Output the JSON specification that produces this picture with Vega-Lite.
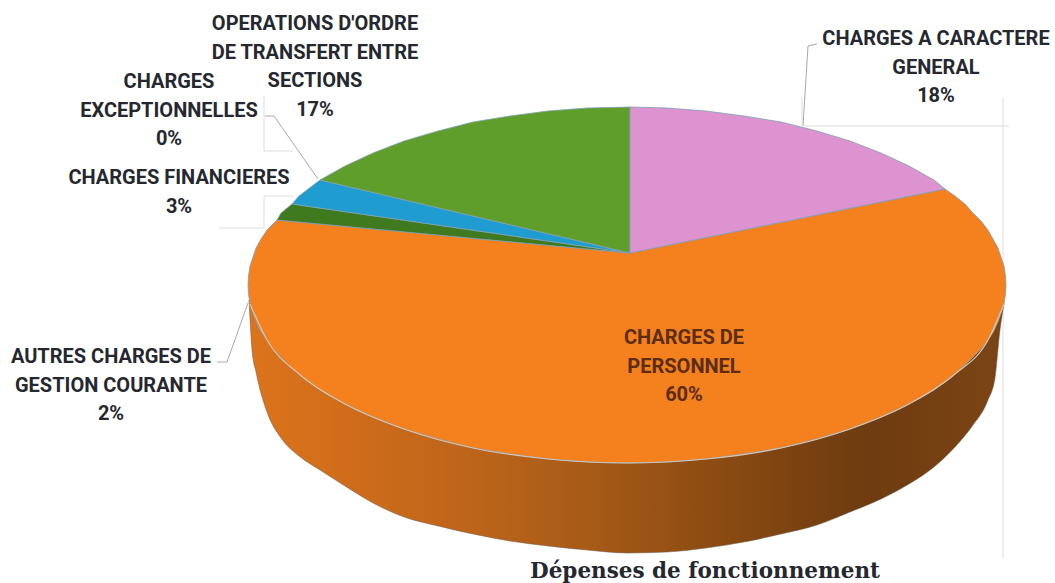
{"$schema":"https://vega.github.io/schema/vega-lite/v6.json","width":1055,"height":583,"autosize":{"type":"fit","contains":"padding"},"padding":0,"background":"white","view":{"stroke":null},
"datasets":{
"wall":[{"x":249,"t":300,"b":300},{"x":252,"t":310,"b":350},{"x":256,"t":322,"b":372},{"x":267,"t":340,"b":412},{"x":281,"t":357,"b":438},{"x":299,"t":374,"b":456},{"x":320,"t":390,"b":470},{"x":345,"t":404,"b":486},{"x":373,"t":417,"b":503},{"x":404,"t":429,"b":517},{"x":438,"t":439,"b":526},{"x":473,"t":448,"b":534},{"x":510,"t":454,"b":541},{"x":548,"t":459,"b":546},{"x":587,"t":462,"b":550},{"x":627,"t":463,"b":553},{"x":667,"t":462,"b":552},{"x":706,"t":459,"b":548},{"x":744,"t":454,"b":542},{"x":781,"t":448,"b":534},{"x":817,"t":439,"b":525},{"x":850,"t":429,"b":512},{"x":881,"t":417,"b":499},{"x":909,"t":404,"b":484},{"x":934,"t":390,"b":467},{"x":955,"t":374,"b":447},{"x":973,"t":357,"b":425},{"x":988,"t":340,"b":400},{"x":995,"t":329,"b":378},{"x":1000,"t":316,"b":330},{"x":1004,"t":304,"b":304}],
"slices":[
{"s":"CHARGES DE PERSONNEL","i":0,"x":630,"y":253},{"s":"CHARGES DE PERSONNEL","i":1,"x":945,"y":189},{"s":"CHARGES DE PERSONNEL","i":2,"x":955,"y":196},{"s":"CHARGES DE PERSONNEL","i":2.5,"x":965,"y":204},{"s":"CHARGES DE PERSONNEL","i":3,"x":973,"y":213},{"s":"CHARGES DE PERSONNEL","i":3.5,"x":981,"y":221},{"s":"CHARGES DE PERSONNEL","i":4,"x":988,"y":230},{"s":"CHARGES DE PERSONNEL","i":4.5,"x":993,"y":239},{"s":"CHARGES DE PERSONNEL","i":5,"x":998,"y":248},{"s":"CHARGES DE PERSONNEL","i":5.5,"x":1001,"y":257},{"s":"CHARGES DE PERSONNEL","i":6,"x":1004,"y":266},{"s":"CHARGES DE PERSONNEL","i":6.5,"x":1005.5,"y":276},{"s":"CHARGES DE PERSONNEL","i":7,"x":1006,"y":285},{"s":"CHARGES DE PERSONNEL","i":7.5,"x":1005.5,"y":294},{"s":"CHARGES DE PERSONNEL","i":8,"x":1004,"y":304},{"s":"CHARGES DE PERSONNEL","i":8.5,"x":1001,"y":313},{"s":"CHARGES DE PERSONNEL","i":9,"x":998,"y":322},{"s":"CHARGES DE PERSONNEL","i":9.5,"x":993,"y":331},{"s":"CHARGES DE PERSONNEL","i":10,"x":988,"y":340},{"s":"CHARGES DE PERSONNEL","i":10.5,"x":981,"y":349},{"s":"CHARGES DE PERSONNEL","i":11,"x":973,"y":357},{"s":"CHARGES DE PERSONNEL","i":12,"x":955,"y":374},{"s":"CHARGES DE PERSONNEL","i":13,"x":934,"y":390},{"s":"CHARGES DE PERSONNEL","i":14,"x":909,"y":404},{"s":"CHARGES DE PERSONNEL","i":15,"x":881,"y":417},{"s":"CHARGES DE PERSONNEL","i":16,"x":850,"y":429},{"s":"CHARGES DE PERSONNEL","i":17,"x":817,"y":439},{"s":"CHARGES DE PERSONNEL","i":18,"x":781,"y":448},{"s":"CHARGES DE PERSONNEL","i":19,"x":744,"y":454},{"s":"CHARGES DE PERSONNEL","i":20,"x":706,"y":459},{"s":"CHARGES DE PERSONNEL","i":21,"x":667,"y":462},{"s":"CHARGES DE PERSONNEL","i":22,"x":627,"y":463},{"s":"CHARGES DE PERSONNEL","i":23,"x":587,"y":462},{"s":"CHARGES DE PERSONNEL","i":24,"x":548,"y":459},{"s":"CHARGES DE PERSONNEL","i":25,"x":510,"y":454},{"s":"CHARGES DE PERSONNEL","i":26,"x":473,"y":448},{"s":"CHARGES DE PERSONNEL","i":27,"x":438,"y":439},{"s":"CHARGES DE PERSONNEL","i":28,"x":404,"y":429},{"s":"CHARGES DE PERSONNEL","i":29,"x":373,"y":417},{"s":"CHARGES DE PERSONNEL","i":30,"x":345,"y":404},{"s":"CHARGES DE PERSONNEL","i":31,"x":320,"y":390},{"s":"CHARGES DE PERSONNEL","i":32,"x":299,"y":374},{"s":"CHARGES DE PERSONNEL","i":32.5,"x":289,"y":366},{"s":"CHARGES DE PERSONNEL","i":33,"x":281,"y":357},{"s":"CHARGES DE PERSONNEL","i":33.5,"x":273,"y":349},{"s":"CHARGES DE PERSONNEL","i":34,"x":267,"y":340},{"s":"CHARGES DE PERSONNEL","i":34.5,"x":261,"y":331},{"s":"CHARGES DE PERSONNEL","i":35,"x":256,"y":322},{"s":"CHARGES DE PERSONNEL","i":35.5,"x":253,"y":313},{"s":"CHARGES DE PERSONNEL","i":36,"x":250,"y":304},{"s":"CHARGES DE PERSONNEL","i":36.5,"x":248.5,"y":294},{"s":"CHARGES DE PERSONNEL","i":37,"x":248,"y":285},{"s":"CHARGES DE PERSONNEL","i":37.5,"x":248.5,"y":276},{"s":"CHARGES DE PERSONNEL","i":38,"x":250,"y":266},{"s":"CHARGES DE PERSONNEL","i":38.5,"x":253,"y":257},{"s":"CHARGES DE PERSONNEL","i":39,"x":256,"y":248},{"s":"CHARGES DE PERSONNEL","i":39.5,"x":261,"y":239},{"s":"CHARGES DE PERSONNEL","i":40,"x":267,"y":230},{"s":"CHARGES DE PERSONNEL","i":41,"x":277,"y":220},{"s":"CHARGES DE PERSONNEL","i":42,"x":630,"y":253},
{"s":"AUTRES CHARGES DE GESTION COURANTE","i":0,"x":630,"y":253},{"s":"AUTRES CHARGES DE GESTION COURANTE","i":1,"x":277,"y":220},{"s":"AUTRES CHARGES DE GESTION COURANTE","i":2,"x":281,"y":213},{"s":"AUTRES CHARGES DE GESTION COURANTE","i":3,"x":292,"y":204},{"s":"AUTRES CHARGES DE GESTION COURANTE","i":4,"x":630,"y":253},
{"s":"CHARGES FINANCIERES","i":0,"x":630,"y":253},{"s":"CHARGES FINANCIERES","i":1,"x":292,"y":204},{"s":"CHARGES FINANCIERES","i":2,"x":299,"y":196},{"s":"CHARGES FINANCIERES","i":3,"x":320,"y":180},{"s":"CHARGES FINANCIERES","i":4,"x":630,"y":253},
{"s":"OPERATIONS D'ORDRE","i":0,"x":630,"y":253},{"s":"OPERATIONS D'ORDRE","i":1,"x":320,"y":180},{"s":"OPERATIONS D'ORDRE","i":2,"x":345,"y":166},{"s":"OPERATIONS D'ORDRE","i":3,"x":373,"y":153},{"s":"OPERATIONS D'ORDRE","i":4,"x":404,"y":141},{"s":"OPERATIONS D'ORDRE","i":5,"x":438,"y":131},{"s":"OPERATIONS D'ORDRE","i":6,"x":473,"y":122},{"s":"OPERATIONS D'ORDRE","i":7,"x":510,"y":116},{"s":"OPERATIONS D'ORDRE","i":8,"x":548,"y":111},{"s":"OPERATIONS D'ORDRE","i":9,"x":587,"y":108},{"s":"OPERATIONS D'ORDRE","i":10,"x":630,"y":107},{"s":"OPERATIONS D'ORDRE","i":11,"x":630,"y":253},
{"s":"CHARGES A CARACTERE GENERAL","i":0,"x":630,"y":253},{"s":"CHARGES A CARACTERE GENERAL","i":1,"x":630,"y":107},{"s":"CHARGES A CARACTERE GENERAL","i":2,"x":667,"y":108},{"s":"CHARGES A CARACTERE GENERAL","i":3,"x":706,"y":111},{"s":"CHARGES A CARACTERE GENERAL","i":4,"x":744,"y":116},{"s":"CHARGES A CARACTERE GENERAL","i":5,"x":781,"y":122},{"s":"CHARGES A CARACTERE GENERAL","i":6,"x":817,"y":131},{"s":"CHARGES A CARACTERE GENERAL","i":7,"x":850,"y":141},{"s":"CHARGES A CARACTERE GENERAL","i":8,"x":881,"y":153},{"s":"CHARGES A CARACTERE GENERAL","i":9,"x":909,"y":166},{"s":"CHARGES A CARACTERE GENERAL","i":10,"x":934,"y":180},{"s":"CHARGES A CARACTERE GENERAL","i":11,"x":945,"y":189},{"s":"CHARGES A CARACTERE GENERAL","i":12,"x":630,"y":253}],
"leaders":[
{"k":"a","c":"lead","i":0,"x":265,"y":116},{"k":"a","c":"lead","i":1,"x":274,"y":116},{"k":"a","c":"lead","i":2,"x":318,"y":179},
{"k":"b","c":"lead","i":0,"x":817,"y":44},{"k":"b","c":"lead","i":1,"x":808,"y":46},{"k":"b","c":"lead","i":2,"x":803,"y":126},
{"k":"c","c":"lead","i":0,"x":217,"y":362},{"k":"c","c":"lead","i":1,"x":227,"y":362},{"k":"c","c":"lead","i":2,"x":248,"y":303},
{"k":"d","c":"frame","i":0,"x":264,"y":96},{"k":"d","c":"frame","i":1,"x":264,"y":151},{"k":"d","c":"frame","i":2,"x":293,"y":151},
{"k":"e","c":"frame","i":0,"x":219,"y":228},{"k":"e","c":"frame","i":1,"x":264,"y":228},{"k":"e","c":"frame","i":2,"x":264,"y":196},{"k":"e","c":"frame","i":3,"x":293,"y":196},
{"k":"f","c":"frame","i":0,"x":802,"y":97},{"k":"f","c":"frame","i":1,"x":802,"y":126},{"k":"f","c":"frame","i":2,"x":1009,"y":126},
{"k":"g","c":"frame","i":0,"x":1003,"y":97},{"k":"g","c":"frame","i":1,"x":1003,"y":558}],
"rim":[{"x":250,"y":304},{"x":267,"y":340},{"x":299,"y":374},{"x":345,"y":404},{"x":404,"y":429},{"x":473,"y":448},{"x":548,"y":459},{"x":627,"y":463},{"x":706,"y":459},{"x":781,"y":448},{"x":850,"y":429},{"x":909,"y":404},{"x":955,"y":374},{"x":988,"y":340},{"x":1004,"y":304}],
"labels":[
{"t":"OPERATIONS D'ORDRE\nDE TRANSFERT ENTRE\nSECTIONS\n17%","x":315,"y":30,"c":"out"},
{"t":"CHARGES\nEXCEPTIONNELLES\n0%","x":169,"y":88,"c":"out"},
{"t":"CHARGES FINANCIERES\n3%","x":179,"y":184,"c":"out"},
{"t":"CHARGES A CARACTERE\nGENERAL\n18%","x":936,"y":45,"c":"out"},
{"t":"AUTRES CHARGES DE\nGESTION COURANTE\n2%","x":111,"y":363,"c":"out"},
{"t":"CHARGES DE\nPERSONNEL\n60%","x":684,"y":344,"c":"in"}],
"title":[{"t":"Dépenses de fonctionnement","x":705,"y":578}]
},
"resolve":{"scale":{"color":"independent","fill":"independent","stroke":"independent"}},
"layer":[
{"data":{"name":"leaders"},"mark":{"type":"line","strokeWidth":1,"clip":false},"encoding":{
"x":{"field":"x","type":"quantitative","scale":{"domain":[0,1055],"nice":false,"zero":false},"axis":null},
"y":{"field":"y","type":"quantitative","scale":{"domain":[583,0],"nice":false,"zero":false},"axis":null},
"detail":{"field":"k"},"order":{"field":"i"},
"color":{"field":"c","scale":{"domain":["frame","lead"],"range":["#dcdde0","#a9a9a9"]},"legend":null}}},
{"data":{"name":"wall"},"mark":{"type":"area","interpolate":"monotone","stroke":"#6b5a4a","strokeWidth":0.5,"color":{"gradient":"linear","x1":0,"x2":1,"y1":0,"y2":0,"stops":[{"offset":0,"color":"#dd741c"},{"offset":0.13,"color":"#d06c1a"},{"offset":0.33,"color":"#b8631a"},{"offset":0.46,"color":"#a55a16"},{"offset":0.6,"color":"#8f4d13"},{"offset":0.73,"color":"#7a4210"},{"offset":0.82,"color":"#6e3c10"},{"offset":1,"color":"#7c4414"}]}},"encoding":{
"x":{"field":"x","type":"quantitative","scale":{"domain":[0,1055],"nice":false,"zero":false},"axis":null},
"y":{"field":"t","type":"quantitative","scale":{"domain":[583,0],"nice":false,"zero":false},"axis":null},
"y2":{"field":"b"}}},
{"data":{"name":"slices"},"mark":{"type":"line","strokeWidth":0.8,"stroke":"#7f9fb5"},"encoding":{
"x":{"field":"x","type":"quantitative","scale":{"domain":[0,1055],"nice":false,"zero":false},"axis":null},
"y":{"field":"y","type":"quantitative","scale":{"domain":[583,0],"nice":false,"zero":false},"axis":null},
"detail":{"field":"s"},"order":{"field":"i"},
"fill":{"field":"s","scale":{"domain":["CHARGES DE PERSONNEL","AUTRES CHARGES DE GESTION COURANTE","CHARGES FINANCIERES","OPERATIONS D'ORDRE","CHARGES A CARACTERE GENERAL"],"range":["#f5801e","#3f7a1f","#1f9dd0","#5f9e2a","#dc93cf"]},"legend":null}}},
{"data":{"name":"rim"},"mark":{"type":"line","interpolate":"monotone","strokeWidth":1.2,"stroke":"#cfc6b8"},"encoding":{
"x":{"field":"x","type":"quantitative","scale":{"domain":[0,1055],"nice":false,"zero":false},"axis":null},
"y":{"field":"y","type":"quantitative","scale":{"domain":[583,0],"nice":false,"zero":false},"axis":null}}},
{"data":{"name":"labels"},"mark":{"type":"text","font":"Roboto","fontWeight":"bold","fontSize":20,"align":"center","baseline":"alphabetic","lineBreak":"\n","lineHeight":28.5},"encoding":{
"x":{"field":"x","type":"quantitative","scale":{"domain":[0,1055],"nice":false,"zero":false},"axis":null},
"y":{"field":"y","type":"quantitative","scale":{"domain":[583,0],"nice":false,"zero":false},"axis":null},
"text":{"field":"t"},
"fill":{"field":"c","scale":{"domain":["out","in"],"range":["#25282e","#5a2d14"]},"legend":null}}},
{"data":{"name":"title"},"mark":{"type":"text","font":"DejaVu Serif","fontWeight":"bold","fontSize":21.5,"align":"center","baseline":"alphabetic","fill":"#25282e"},"encoding":{
"x":{"field":"x","type":"quantitative","scale":{"domain":[0,1055],"nice":false,"zero":false},"axis":null},
"y":{"field":"y","type":"quantitative","scale":{"domain":[583,0],"nice":false,"zero":false},"axis":null},
"text":{"field":"t"}}}
]}
